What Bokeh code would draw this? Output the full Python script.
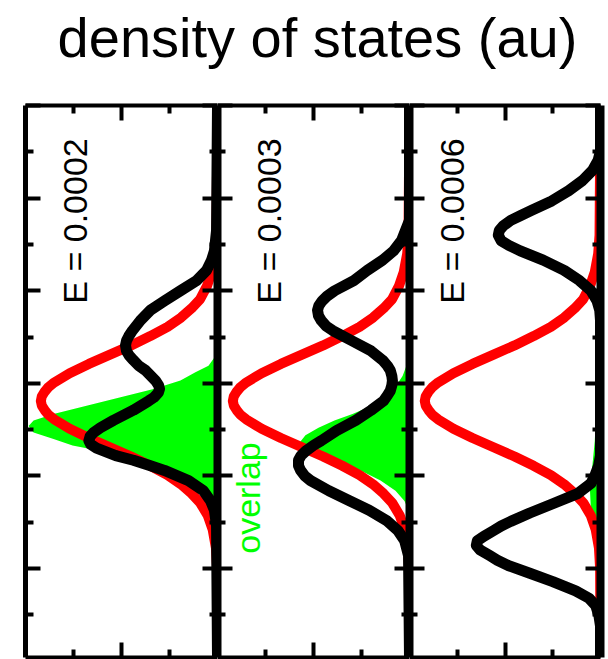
import math
from bokeh.plotting import figure
from bokeh.models import Range1d, LinearAxis, FixedTicker, Label
from bokeh.layouts import column, row
from bokeh.embed import file_html
from bokeh.resources import INLINE

# ---------------- data (energy in axis units, density of states in au) ----------------
title_text = "density of states (au)"
panel_labels = ["E = 0.0002", "E = 0.0003", "E = 0.0006"]
overlap_label = "overlap"

# red: reference state (same in every panel)
red_e = [0.0, 1.40, 1.60, 1.80, 1.95, 2.09, 2.19, 2.29, 2.39, 2.49, 2.59, 2.69, 2.79, 2.89,
         2.99, 3.04, 3.09, 3.14, 3.19, 3.24, 3.29, 3.34, 3.39, 3.49, 3.59, 3.69, 3.79, 3.89,
         3.99, 4.09, 4.19, 4.29, 4.43, 4.58, 4.78, 5.00, 5.96]
red_d = [0.0, 0.005, 0.012, 0.03, 0.055, 0.09, 0.135, 0.19, 0.26, 0.35, 0.45, 0.56, 0.67, 0.77,
         0.85, 0.88, 0.90, 0.915, 0.92, 0.915, 0.90, 0.88, 0.85, 0.77, 0.67, 0.56, 0.45, 0.35,
         0.26, 0.19, 0.135, 0.09, 0.05, 0.025, 0.008, 0.002, 0.0]

# black: split state, E = 0.0002
black1_e = [0.0, 1.35, 1.57, 1.67, 1.78, 1.89, 2.00, 2.11, 2.21, 2.32, 2.43, 2.49, 2.54, 2.59,
            2.65, 2.70, 2.75, 2.81, 2.86, 2.97, 3.02, 3.06, 3.10, 3.15, 3.19, 3.29, 3.40, 3.48,
            3.53, 3.57, 3.62, 3.66, 3.70, 3.74, 3.78, 3.83, 3.89, 3.94, 4.05, 4.16, 4.27, 4.37,
            4.54, 5.96]
black1_d = [0.0, 0.005, 0.016, 0.031, 0.057, 0.109, 0.193, 0.276, 0.349, 0.401, 0.443, 0.462,
            0.474, 0.479, 0.474, 0.46, 0.438, 0.41, 0.375, 0.323, 0.307, 0.302, 0.308, 0.33,
            0.359, 0.438, 0.542, 0.61, 0.645, 0.663, 0.67, 0.66, 0.63, 0.58, 0.53, 0.438, 0.349,
            0.276, 0.151, 0.073, 0.036, 0.016, 0.005, 0.0]
# black: E = 0.0003
black2_e = [0.0, 1.24, 1.35, 1.46, 1.57, 1.67, 1.78, 1.89, 2.00, 2.06, 2.11, 2.16, 2.21, 2.27,
            2.32, 2.38, 2.43, 2.54, 2.65, 2.75, 2.81, 2.86, 2.92, 2.97, 3.02, 3.08, 3.13, 3.19,
            3.29, 3.40, 3.51, 3.62, 3.67, 3.73, 3.78, 3.83, 3.89, 3.94, 4.00, 4.05, 4.16, 4.27,
            4.37, 4.48, 4.59, 4.70, 4.86, 5.96]
black2_d = [0.0, 0.0, 0.021, 0.042, 0.083, 0.14, 0.22, 0.29, 0.39, 0.43, 0.455, 0.472, 0.479,
            0.474, 0.46, 0.435, 0.40, 0.30, 0.20, 0.14, 0.115, 0.10, 0.092, 0.089, 0.092, 0.10,
            0.115, 0.135, 0.20, 0.28, 0.38, 0.46, 0.50, 0.54, 0.565, 0.578, 0.578, 0.567, 0.545,
            0.515, 0.42, 0.31, 0.21, 0.12, 0.06, 0.025, 0.005, 0.0]
# black: E = 0.0006
black3_e = [0.0, 0.49, 0.59, 0.70, 0.81, 0.92, 1.03, 1.13, 1.19, 1.24, 1.30, 1.35, 1.40, 1.46,
            1.51, 1.57, 1.67, 1.78, 1.89, 2.00, 2.11, 2.21, 2.32, 3.78, 3.89, 4.00, 4.08, 4.19,
            4.30, 4.40, 4.49, 4.54, 4.59, 4.65, 4.70, 4.75, 4.80, 4.86, 4.91, 4.97, 5.05, 5.14,
            5.24, 5.32, 5.40, 5.51, 5.62, 5.96]
black3_d = [0.0, 0.0, 0.012, 0.042, 0.094, 0.167, 0.255, 0.36, 0.42, 0.47, 0.51, 0.53, 0.535,
            0.52, 0.48, 0.42, 0.30, 0.19, 0.11, 0.05, 0.018, 0.004, 0.0, 0.0, 0.01, 0.03, 0.05,
            0.12, 0.25, 0.37, 0.47, 0.52, 0.56, 0.61, 0.645, 0.65, 0.63, 0.58, 0.54, 0.48, 0.37,
            0.25, 0.13, 0.06, 0.025, 0.008, 0.0, 0.0]

# green: overlap
green1_e = [0.0, 2.65, 2.72, 2.81, 2.88, 2.97, 3.06, 3.15, 3.24, 3.33, 3.40, 3.46, 3.53, 3.60,
            3.67, 3.73, 3.81, 3.89, 3.96, 4.05, 4.14, 4.21, 4.30, 4.43, 5.96]
green1_d = [0.0, 0.0, 0.016, 0.047, 0.115, 0.193, 0.333, 0.505, 0.677, 0.854, 0.958, 0.984,
            0.958, 0.854, 0.755, 0.609, 0.469, 0.349, 0.260, 0.167, 0.089, 0.047, 0.016, 0.0, 0.0]
green2_e = [0.0, 2.70, 2.81, 2.92, 3.02, 3.13, 3.24, 3.33, 3.40, 3.48, 3.56, 3.64, 3.70, 3.78,
            3.86, 3.94, 4.05, 4.16, 4.27, 4.37, 4.48, 5.96]
green2_d = [0.0, 0.0, 0.016, 0.036, 0.068, 0.109, 0.193, 0.297, 0.391, 0.474, 0.542, 0.573,
            0.557, 0.474, 0.370, 0.255, 0.151, 0.073, 0.026, 0.005, 0.0, 0.0]
green3_e = [0.0, 1.57, 2.11, 2.65, 3.19, 3.62, 3.94, 4.16, 4.37, 4.59, 4.91, 5.35, 5.78, 5.96]
green3_d = [0.0, 0.0, 0.005, 0.01, 0.02, 0.03, 0.045, 0.055, 0.05, 0.035, 0.02, 0.008, 0.0, 0.0]

# axis ticks
energy_major = [0, 1, 2, 3, 4, 5]
energy_minor = [0.5, 1.5, 2.5, 3.5, 4.5, 5.5]
dos_major = [0.5]
dos_minor = [0.25, 0.75]
energy_span = (5.96, 0.0)   # bottom, top
dos_span = (1.0, 0.0)       # left, right

# label positions (data units): (density, energy)
label_pos = [(0.74, 2.14), (0.73, 2.14), (0.78, 2.14)]
overlap_pos = (0.84, 4.84)

RED = "#ff0000"
GREEN = "#00ff00"
FONT = "Liberation Sans"

panels = [
    dict(black_e=black1_e, black_d=black1_d, green_e=green1_e, green_d=green1_d),
    dict(black_e=black2_e, black_d=black2_d, green_e=green2_e, green_d=green2_d),
    dict(black_e=black3_e, black_d=black3_d, green_e=green3_e, green_d=green3_d),
]


def make_axis(ticks, minor, line_width, line_color="black"):
    return LinearAxis(
        ticker=FixedTicker(ticks=ticks, minor_ticks=minor),
        major_label_text_font_size="0px", major_label_standoff=0,
        major_label_text_color=None,
        major_tick_in=15, major_tick_out=0, minor_tick_in=8, minor_tick_out=0,
        major_tick_line_width=4, minor_tick_line_width=4,
        major_tick_line_color="black", minor_tick_line_color="black",
        axis_line_width=line_width, axis_line_color=line_color,
    )


widths = [217, 192, 199]
borders = [(25, 0), (0, 0), (0, 8)]
left_lw = [5, 8, 8]
figs = []
for i, pnl in enumerate(panels):
    f = figure(width=widths[i], height=559, toolbar_location=None, output_backend="svg",
               x_range=Range1d(*dos_span), y_range=Range1d(*energy_span),
               x_axis_type=None, y_axis_type=None,
               min_border_left=borders[i][0], min_border_right=borders[i][1],
               min_border_top=5, min_border_bottom=2,
               outline_line_color=None, background_fill_color="white",
               border_fill_color="white")
    f.grid.visible = False
    f.harea(x1=[0.0] * len(pnl["green_e"]), x2=pnl["green_d"], y=pnl["green_e"],
            fill_color=GREEN, fill_alpha=1.0)
    f.line(red_d, red_e, line_color=RED, line_width=10, line_join="round", line_cap="round")
    f.line(pnl["black_d"], pnl["black_e"], line_color="black", line_width=11,
           line_join="round", line_cap="round")
    f.add_layout(make_axis(dos_major, dos_minor, 4), "above")
    f.add_layout(make_axis(dos_major, dos_minor, 4), "below")
    f.add_layout(make_axis(energy_major, energy_minor, left_lw[i]), "left")
    f.add_layout(make_axis(energy_major, energy_minor, 8), "right")
    lx, ly = label_pos[i]
    f.add_layout(Label(x=lx, y=ly, text=panel_labels[i], angle=math.pi / 2,
                       text_align="left", text_baseline="alphabetic",
                       text_font=FONT, text_font_size="34px", text_color="black"))
    if i == 1:
        f.add_layout(Label(x=overlap_pos[0], y=overlap_pos[1], text=overlap_label,
                           angle=math.pi / 2, text_align="left", text_baseline="alphabetic",
                           text_font=FONT, text_font_size="34px", text_color=GREEN))
    figs.append(f)

t = figure(width=608, height=100, toolbar_location=None, output_backend="svg",
           x_range=Range1d(0, 608), y_range=Range1d(0, 100),
           x_axis_type=None, y_axis_type=None, min_border=0,
           outline_line_color=None, background_fill_color="white", border_fill_color="white")
t.grid.visible = False
t.add_layout(Label(x=317, y=63, text=title_text, text_align="center",
                   text_baseline="alphabetic", text_font=FONT, text_font_size="56px",
                   text_color="black"))

layout = column(t, row(*figs, spacing=0), spacing=0)
open("out.html", "w").write(file_html(layout, INLINE))
